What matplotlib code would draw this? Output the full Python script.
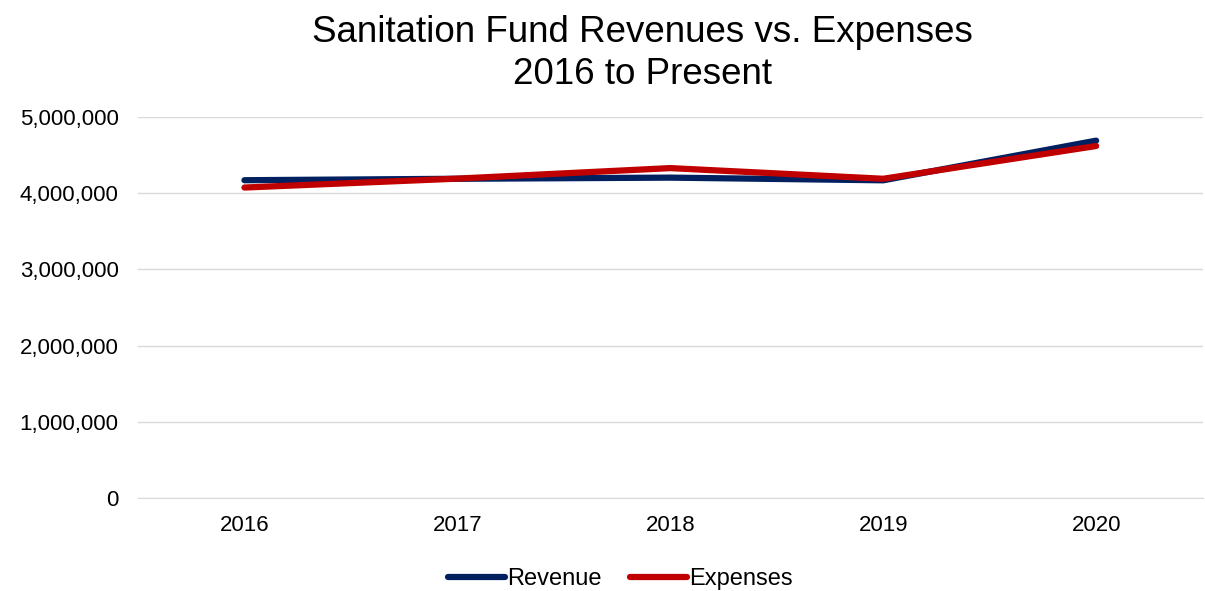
import matplotlib.pyplot as plt
from matplotlib.ticker import FuncFormatter

plt.rcParams['font.family'] = ['Liberation Sans', 'DejaVu Sans']

years = ['2016', '2017', '2018', '2019', '2020']
revenue = [4171000, 4190000, 4205000, 4170000, 4690000]
expenses = [4075000, 4192000, 4330000, 4190000, 4620000]

fig = plt.figure(figsize=(12.05, 5.91), dpi=100)
ax = fig.add_axes([0.1145, 0.157, 0.8835, 0.645])

x = range(len(years))
ax.plot(x, revenue, color='#002060', lw=4.5, solid_capstyle='round', label='Revenue')
ax.plot(x, expenses, color='#C00000', lw=4.5, solid_capstyle='round', label='Expenses')

ax.set_xlim(-0.5, len(years) - 0.5)
ax.set_ylim(0, 5000000)
ax.set_yticks(range(0, 5000001, 1000000))
ax.yaxis.set_major_formatter(FuncFormatter(lambda v, p: f'{int(v):,}'))
ax.set_xticks(list(x))
ax.set_xticklabels(years)
ax.tick_params(axis='both', length=0, labelsize=16, colors='#000000')
ax.tick_params(axis='x', pad=12)
ax.tick_params(axis='y', pad=14)
ax.grid(axis='y', color='#D9D9D9', lw=1)
ax.set_axisbelow(True)
for s in ['top', 'right', 'left']:
    ax.spines[s].set_visible(False)
ax.spines['bottom'].set_color('#D9D9D9')

fig.suptitle('Sanitation Fund Revenues vs. Expenses\n2016 to Present', fontsize=26.5, x=0.533, y=0.975, linespacing=1.25)
fig.legend(loc='lower center', ncol=2, frameon=False, fontsize=17, bbox_to_anchor=(0.515, -0.035),
           handlelength=2.4, handletextpad=0.1, columnspacing=1.2)

fig.savefig('out.png', dpi=100)
